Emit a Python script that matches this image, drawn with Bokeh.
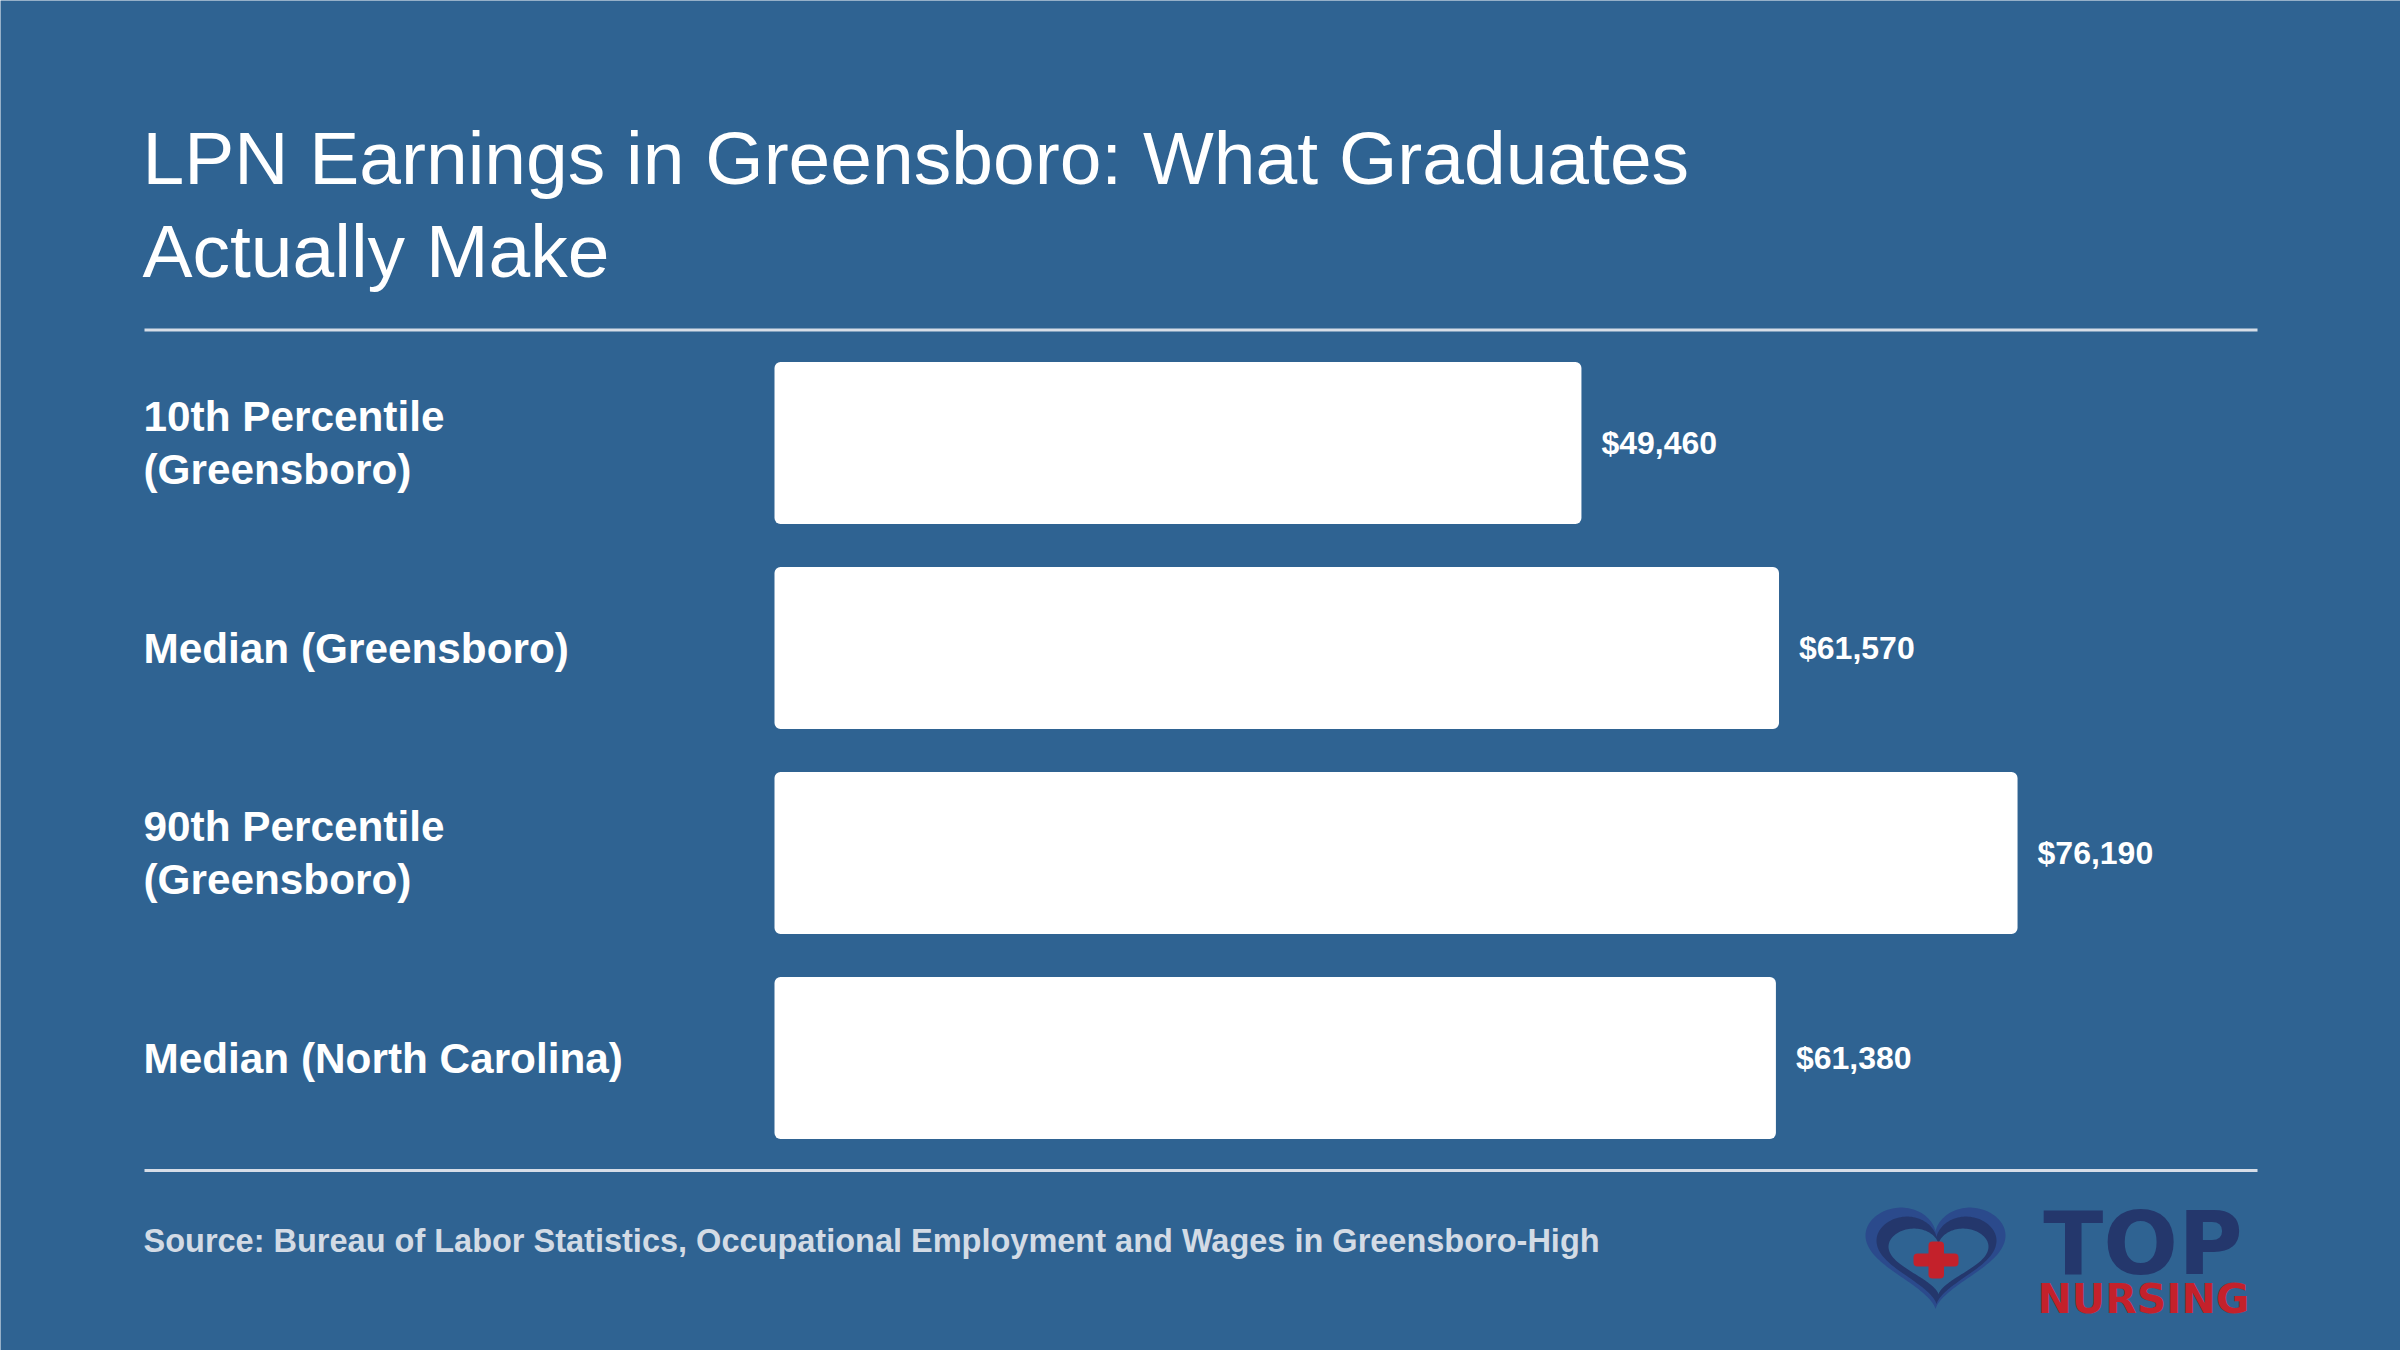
import numpy as np
from bokeh.plotting import figure
from bokeh.models import Range1d, Label, BoxAnnotation, PolyAnnotation, ColumnDataSource
from bokeh.core.properties import value
from bokeh.embed import file_html
from bokeh.resources import INLINE

# ---------------- data ----------------
categories = [
    "10th Percentile (Greensboro)",
    "Median (Greensboro)",
    "90th Percentile (Greensboro)",
    "Median (North Carolina)",
]
category_labels = [
    "10th Percentile\n(Greensboro)",
    "Median (Greensboro)",
    "90th Percentile\n(Greensboro)",
    "Median (North Carolina)",
]
salaries = [49460, 61570, 76190, 61380]
salary_labels = ["$49,460", "$61,570", "$76,190", "$61,380"]

title_lines = ["LPN Earnings in Greensboro: What Graduates", "Actually Make"]
source_text = "Source: Bureau of Labor Statistics, Occupational Employment and Wages in Greensboro-High"

# ---------------- layout / style ----------------
W, H = 2400, 1350
OFF = 0                      # page offset of the figure
BG = "#2f6392"
RULE = "#d6dde7"
SRC_COL = "#d3dbe5"
NAVY = "#24376c"
NAVY2 = "#2b4a8c"
RED = "#c4212b"
FONT = "Liberation Sans"

PX_PER_USD = 0.016315
ZERO_X = 774 - OFF           # screen x of $0
ROW_PX = 205
FIRST_ROW_Y = 442.5 - OFF    # screen y (from top) of first row centre

x_start = -ZERO_X / PX_PER_USD
x_end = (W - ZERO_X) / PX_PER_USD
y_top = -FIRST_ROW_Y / ROW_PX
y_bottom = y_top + H / ROW_PX


def sx(ref_x):
    return ref_x - OFF


def sy(ref_y):
    return H - (ref_y - OFF)


p = figure(
    width=W, height=H,
    x_range=Range1d(x_start, x_end),
    y_range=Range1d(y_bottom, y_top),
    x_axis_location=None, y_axis_location=None,
    toolbar_location=None, output_backend="svg",
    min_border=0, min_border_left=0, min_border_right=0,
    min_border_top=0, min_border_bottom=0,
    background_fill_color=BG, border_fill_color=BG,
    outline_line_color=None,
)
p.grid.visible = False

src = ColumnDataSource(dict(
    row=list(range(len(categories))),
    category=categories,
    cat_label=category_labels,
    salary=salaries,
    salary_label=salary_labels,
))

p.hbar(y="row", left=0, right="salary", height=0.79, source=src,
       fill_color="white", line_color=None, border_radius=6)

p.text(x="salary", y="row", text="salary_label", source=src,
       x_offset=20, text_align="left", text_baseline="middle",
       text_font=value(FONT), text_font_style="bold",
       text_font_size="32px", text_color="white")

p.text(x=0, y="row", text="cat_label", source=src,
       x_offset=-(ZERO_X - sx(143)), text_align="left", text_baseline="middle",
       text_line_height=1.14,
       text_font=value(FONT), text_font_style="bold",
       text_font_size="42.3px", text_color="white")


def label(text, x, ymid, size, color, font=FONT, style="normal", align="left"):
    p.add_layout(Label(x=sx(x), y=sy(ymid), x_units="screen", y_units="screen",
                       text=text, text_font=font, text_font_style=style,
                       text_font_size=size, text_color=color,
                       text_baseline="middle", text_align=align))


# ---------------- title ----------------
for line, mid in zip(title_lines, [157, 250]):
    label(line, 142, mid, "75px", "white")

# ---------------- rules ----------------
for top in [328, 1168.5]:
    p.add_layout(BoxAnnotation(left=sx(144), right=sx(2257), top=sy(top), bottom=sy(top + 3),
                               left_units="screen", right_units="screen",
                               top_units="screen", bottom_units="screen",
                               fill_color=RULE, fill_alpha=1, line_color=None))

# ---------------- source ----------------
label(source_text, 143, 1240, "32.5px", SRC_COL, style="bold")

# ---------------- logo ----------------
t = np.linspace(0, 2 * np.pi, 240)
hx = 16 * np.sin(t) ** 3
hy = 13 * np.cos(t) - 5 * np.cos(2 * t) - 2 * np.cos(3 * t) - np.cos(4 * t)
HY_MAX = 11.95
HY_SPAN = HY_MAX + 17


def heart(cx, top, half_w, height, color):
    xs = [sx(cx + v * half_w / 16) for v in hx]
    ys = [sy(top + (HY_MAX - v) * height / HY_SPAN) for v in hy]
    p.add_layout(PolyAnnotation(xs=xs, ys=ys, xs_units="screen", ys_units="screen",
                                fill_color=color, fill_alpha=1, line_color=None))


heart(1935, 1207, 70, 102, NAVY2)
heart(1936, 1216, 60, 88, NAVY)
heart(1938, 1228, 50, 66, BG)

for l, r, tp, bt in [(1913, 1958, 1253, 1266), (1928, 1943.5, 1241, 1278)]:
    p.add_layout(BoxAnnotation(left=sx(l), right=sx(r), top=sy(tp), bottom=sy(bt),
                               left_units="screen", right_units="screen",
                               top_units="screen", bottom_units="screen",
                               fill_color=RED, fill_alpha=1, line_color=None,
                               border_radius=4))

label("TOP", 2142.5, 1243, "88px", NAVY, font="DejaVu Sans", style="bold", align="center")
label("NURSING", 2143, 1298, "41px", RED, font="DejaVu Sans", style="bold", align="center")

open("out.html", "w").write(file_html(p, INLINE))
